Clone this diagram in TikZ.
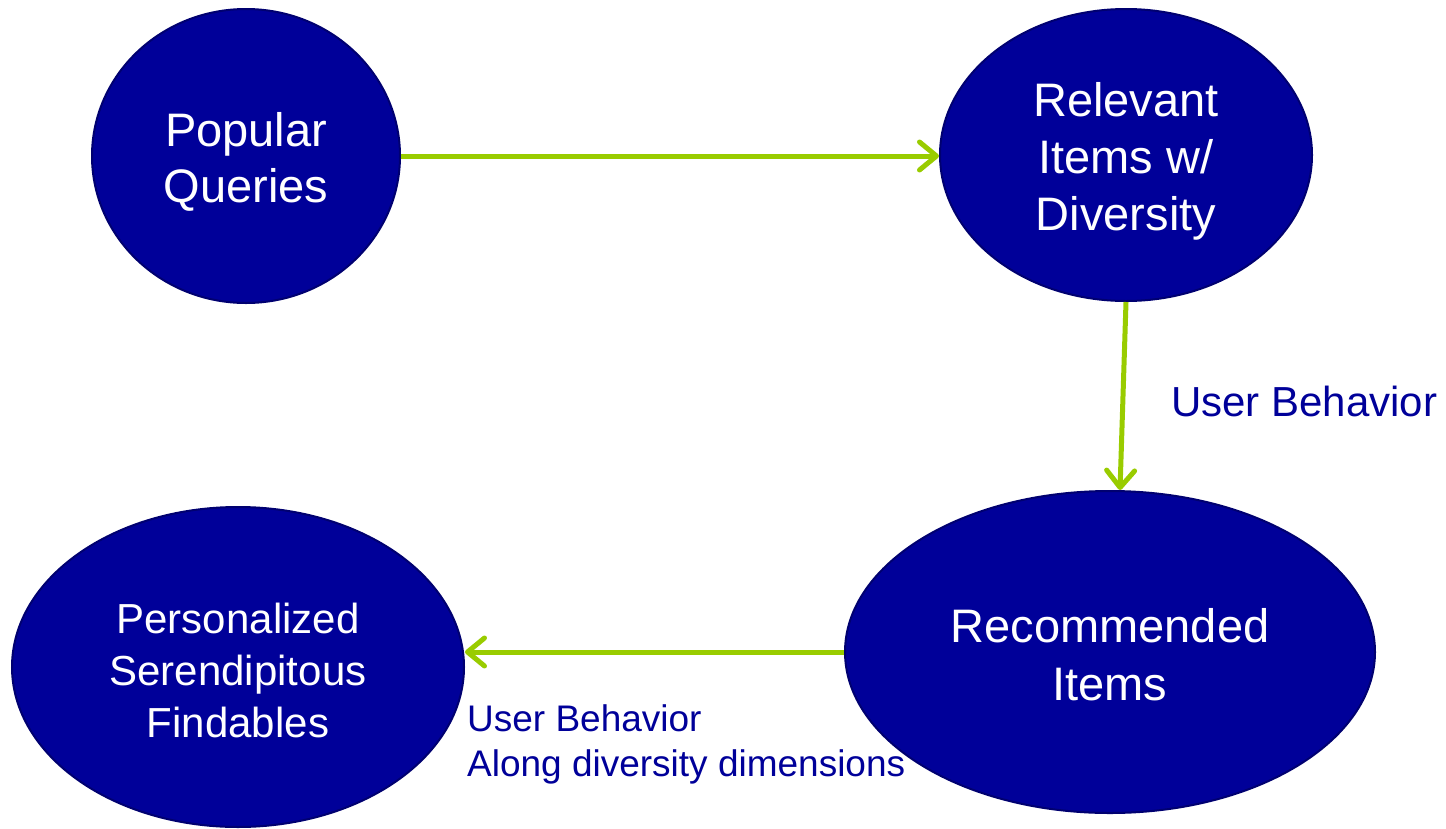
\documentclass[tikz,border=0pt]{standalone}
\usepackage{fontspec}
\setmainfont{Liberation Sans}
\usetikzlibrary{shapes.geometric,arrows.meta}
\definecolor{ovalblue}{HTML}{000099}
\definecolor{ovaledge}{HTML}{000070}
\definecolor{arrowgreen}{HTML}{99CC00}
\definecolor{labelblue}{HTML}{000099}
\tikzset{
  oval/.style={ellipse, fill=ovalblue, draw=ovaledge, line width=2pt, inner sep=0pt},
  ovaltext/.style={text=white, align=center, inner sep=0pt},
  flow/.style={draw=arrowgreen, line width=5pt,
    -{Straight Barb[length=17pt,width=28pt,round]}},
  lbl/.style={text=labelblue, inner sep=0pt, align=left}
}
\begin{document}
\begin{tikzpicture}[x=1pt,y=-1pt]
\useasboundingbox (0,0) rectangle (1446,828);
\node[oval, minimum width=308pt, minimum height=294pt,
  label={[ovaltext, name=pqt, yshift=-6pt, font=\fontsize{47}{56}\selectfont]center:Popular\\Queries}] (pq) at (246,156) {};
\node[oval, minimum width=372pt, minimum height=292pt,
  label={[ovaltext, name=rit, yshift=-6pt, font=\fontsize{47}{57}\selectfont]center:Relevant\\Items w/\\Diversity}] (ri) at (1126,155) {};
\node[oval, minimum width=530pt, minimum height=322pt,
  label={[ovaltext, name=rect, yshift=-3pt, font=\fontsize{47}{58}\selectfont]center:Recommended\\Items}] (rec) at (1110,652) {};
\node[oval, minimum width=452pt, minimum height=320pt,
  label={[ovaltext, name=perst, yshift=-3pt, font=\fontsize{42}{52}\selectfont]center:Personalized\\Serendipitous\\Findables}] (pers) at (238,667) {};
\coordinate (recin) at (1120,490);
\draw[flow] (pq.east) -- (pq.east -| ri.west);
\draw[flow] (ri.south) -- (recin);
\draw[flow] (rec.west) -- (rec.west -| pers.east);
\node[lbl, anchor=west, font=\fontsize{42}{50}\selectfont] (ub1) at (1171,401) {User Behavior};
\node[lbl, anchor=west, font=\fontsize{37}{45}\selectfont] (ub2) at (467,744) {User Behavior\\Along diversity dimensions};
\end{tikzpicture}
\end{document}
